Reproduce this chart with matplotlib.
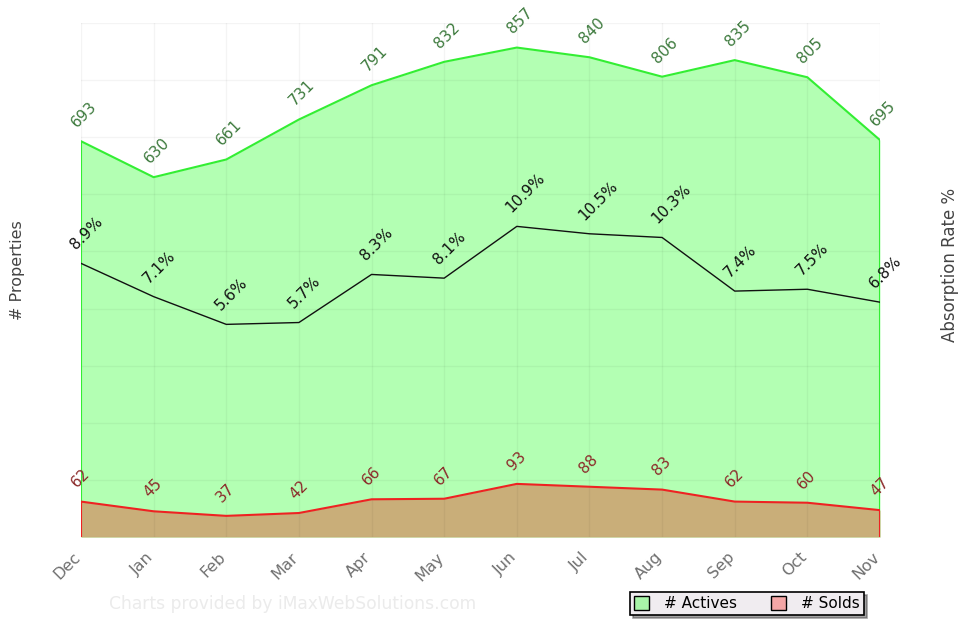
import matplotlib
matplotlib.use("Agg")
import matplotlib.pyplot as plt
from matplotlib.patches import Patch
from matplotlib.transforms import ScaledTranslation

months = ["Dec", "Jan", "Feb", "Mar", "Apr", "May", "Jun", "Jul", "Aug", "Sep", "Oct", "Nov"]
actives = [693, 630, 661, 731, 791, 832, 857, 840, 806, 835, 805, 695]
solds = [62, 45, 37, 42, 66, 67, 93, 88, 83, 62, 60, 47]
absorption = [8.9, 7.1, 5.6, 5.7, 8.3, 8.1, 10.9, 10.5, 10.3, 7.4, 7.5, 6.8]

plt.rcParams['font.family'] = ['DejaVu Sans']

W, H = 962, 620
fig = plt.figure(figsize=(W / 100, H / 100), dpi=100)
L, R, T, B = 81, 880, 23, 537
ax = fig.add_axes([L / W, (H - B) / H, (R - L) / W, (B - T) / H])
x = list(range(len(months)))

ax.fill_between(x, 0, actives, color='#b3ffb3', lw=0, zorder=1)
ax.plot(x, actives, color='#33ee33', lw=1.5, zorder=3)
ax.fill_between(x, 0, solds, color='#c9ae79', lw=0, zorder=2)
ax.plot(x, solds, color='#ee2222', lw=1.5, zorder=4)
ax.vlines([x[0], x[-1]], [solds[0], solds[-1]], [actives[0], actives[-1]], color='#33ee33', lw=1.5, zorder=3)
ax.vlines([x[0], x[-1]], [0, 0], [solds[0], solds[-1]], color='#ee2222', lw=1.5, zorder=4)

ax.set_xlim(x[0], x[-1])
ax.set_ylim(0, 900)
ax.set_yticks(range(0, 901, 100))
ax.set_xticks(x)
ax.set_xticklabels(months, rotation=45, ha='right', va='top', rotation_mode='anchor',
                   color='#707070', fontsize=11.5)
ax.tick_params(axis='x', length=0, pad=9)
ax.tick_params(axis='y', length=0, labelleft=False)
shift = ScaledTranslation(-8 / 100, 0, fig.dpi_scale_trans)
for lab in ax.get_xticklabels():
    lab.set_transform(lab.get_transform() + shift)
ax.grid(True, color='#000000', alpha=0.045, lw=1, zorder=5)
ax.set_axisbelow(False)
for s in ax.spines.values():
    s.set_visible(False)

OFF = (-2, 11)
for xi, v in zip(x, actives):
    ax.annotate(str(v), (xi, v), xytext=OFF, textcoords='offset pixels',
                rotation=45, rotation_mode='anchor', ha='left', va='bottom',
                color='#3d7a3d', fontsize=11, zorder=10)
for xi, v in zip(x, solds):
    ax.annotate(str(v), (xi, v), xytext=OFF, textcoords='offset pixels',
                rotation=45, rotation_mode='anchor', ha='left', va='bottom',
                color='#8b2a2a', fontsize=11, zorder=10)

ax2 = ax.twinx()
ax2.set_ylim(-5.9, 21.9)
ax2.plot(x, absorption, color='#111111', lw=1.0, zorder=6)
ax2.set_yticks([])
for s in ax2.spines.values():
    s.set_visible(False)
for xi, v in zip(x, absorption):
    ax2.annotate(f"{v}%", (xi, v), xytext=(-3, 11), textcoords='offset pixels',
                 rotation=45, rotation_mode='anchor', ha='left', va='bottom',
                 color='#111111', fontsize=11, zorder=10)

fig.text(18 / W, 1 - 270 / H, "# Properties", rotation=90, ha='center', va='center',
         fontsize=11.5, color='#444444')
fig.text(950 / W, 1 - 265 / H, "Absorption Rate %", rotation=90, ha='center', va='center',
         fontsize=12, color='#444444')
fig.text(293 / W, 1 - 604 / H, "Charts provided by iMaxWebSolutions.com", ha='center', va='center',
         fontsize=12.3, color='#ebebeb')

handles = [Patch(facecolor='#a8f5a8', edgecolor='black', label='# Actives'),
           Patch(facecolor='#f5a6a6', edgecolor='black', label='# Solds')]
leg = fig.legend(handles=handles, ncol=2, loc='center', bbox_to_anchor=(747 / W, 1 - 603.5 / H),
                 frameon=True, fancybox=False, shadow=True, fontsize=11,
                 handlelength=1.0, handleheight=1.0, handletextpad=1.0, columnspacing=2.2,
                 borderpad=0.25, borderaxespad=0)
leg.get_frame().set_facecolor('#f0ecf0')
leg.get_frame().set_edgecolor('black')
leg.get_frame().set_linewidth(1.2)

fig.savefig("out.png", dpi=100)
